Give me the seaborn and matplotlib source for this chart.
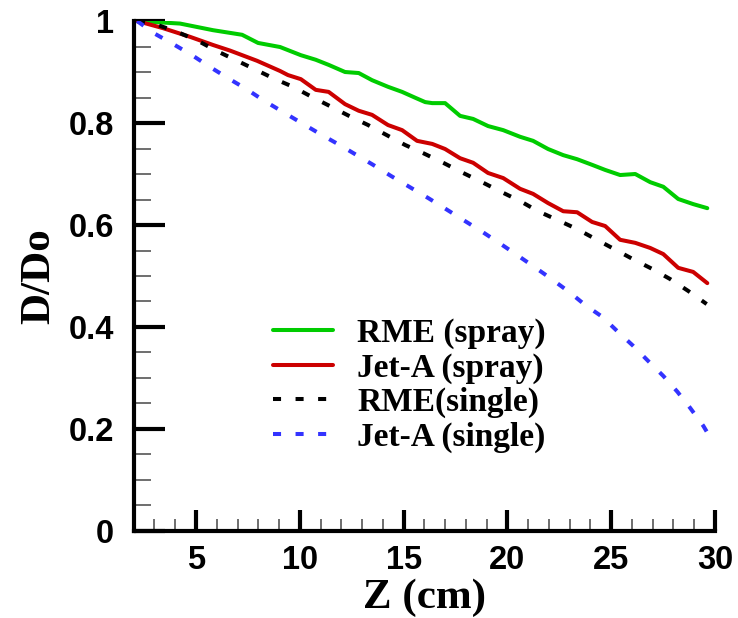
import numpy as np
import pandas as pd
import matplotlib
matplotlib.use("Agg")
import matplotlib.pyplot as plt
import seaborn as sns
from matplotlib.ticker import MultipleLocator, FixedLocator, FixedFormatter

# ---- data ----
z_rme_spray = [2.16, 4.23, 5.82, 7.22, 7.99, 9.05, 10.05, 10.77, 11.39, 12.18, 12.84, 13.48,
               14.25, 14.93, 15.59, 16.04, 16.38, 17.00, 17.72, 18.35, 19.07, 19.80, 20.61,
               21.24, 21.96, 22.69, 23.36, 24.08, 24.71, 25.43, 26.16, 26.88, 27.51, 28.23,
               28.95, 29.63]
d_rme_spray = [1.000, 0.995, 0.982, 0.973, 0.957, 0.949, 0.933, 0.924, 0.914, 0.900, 0.898, 0.884,
               0.871, 0.861, 0.849, 0.841, 0.839, 0.839, 0.814, 0.808, 0.794, 0.786, 0.773,
               0.765, 0.749, 0.737, 0.729, 0.718, 0.708, 0.698, 0.700, 0.684, 0.675, 0.651,
               0.641, 0.633]

z_jeta_spray = [2.16, 3.41, 4.71, 5.82, 6.64, 7.94, 9.05, 9.43, 10.05, 10.77, 11.39, 12.18, 12.84,
                13.48, 14.25, 14.93, 15.65, 16.38, 17.00, 17.72, 18.35, 19.07, 19.80, 20.61,
                21.24, 21.96, 22.69, 23.36, 24.08, 24.71, 25.43, 26.16, 26.88, 27.51, 28.23,
                28.95, 29.63]
d_jeta_spray = [1.000, 0.986, 0.969, 0.953, 0.942, 0.922, 0.902, 0.894, 0.886, 0.865, 0.861, 0.837,
                0.824, 0.816, 0.796, 0.786, 0.765, 0.759, 0.749, 0.731, 0.722, 0.702, 0.692, 0.671,
                0.661, 0.643, 0.627, 0.625, 0.606, 0.598, 0.571, 0.565, 0.555, 0.543, 0.516,
                0.508, 0.486]

z_rme_single = [2.16, 3.17, 4.13, 5.10, 6.01, 6.88, 7.80, 8.71, 9.67, 10.59, 11.46, 12.37, 13.29,
                14.20, 15.07, 15.94, 16.91, 17.87, 18.78, 19.70, 20.61, 21.48, 22.40, 23.36,
                24.22, 25.14, 26.05, 26.97, 27.84, 28.70, 29.60]
d_rme_single = [1.000, 0.992, 0.978, 0.961, 0.941, 0.924, 0.906, 0.888, 0.871, 0.851, 0.833, 0.814,
                0.796, 0.776, 0.757, 0.741, 0.722, 0.702, 0.684, 0.665, 0.647, 0.627, 0.610, 0.592,
                0.573, 0.553, 0.533, 0.514, 0.494, 0.471, 0.445]

z_jeta_single = [2.16, 3.02, 3.89, 4.81, 5.67, 6.54, 7.41, 8.23, 9.05, 10.0, 11.0, 12.0, 12.66,
                 13.53, 14.40, 15.27, 16.18, 17.05, 17.87, 18.74, 19.60, 20.47, 21.29, 22.06,
                 23.0, 23.75, 24.57, 25.34, 26.06, 26.79, 27.51, 28.19, 28.81, 29.44, 29.92]
d_jeta_single = [1.000, 0.975, 0.955, 0.933, 0.910, 0.888, 0.867, 0.845, 0.825, 0.802, 0.778, 0.755,
                 0.739, 0.718, 0.696, 0.675, 0.653, 0.631, 0.610, 0.588, 0.565, 0.541, 0.518, 0.496,
                 0.468, 0.443, 0.420, 0.390, 0.363, 0.333, 0.304, 0.273, 0.241, 0.206, 0.173]

labels = ["RME (spray)", "Jet-A (spray)", "RME(single)", "Jet-A (single)"]
colors = ["#00cc00", "#cc0000", "#000000", "#3333ff"]

x_ticks = [5, 10, 15, 20, 25, 30]
y_ticks = [0, 0.2, 0.4, 0.6, 0.8, 1.0]
y_ticklabels = ["0", "0.2", "0.4", "0.6", "0.8", "1"]

# ---- figure ----
sns.set_style("ticks")
plt.rcParams.update({"text.color": "black", "axes.labelcolor": "black",
                     "xtick.color": "black", "ytick.color": "black",
                     "axes.edgecolor": "black"})
fig = plt.figure(figsize=(7.38, 6.18), dpi=100)
ax = fig.add_axes([0.1812, 0.1408, 0.9688 - 0.1812, 0.966 - 0.1408])

series = [(z_rme_spray, d_rme_spray), (z_jeta_spray, d_jeta_spray),
          (z_rme_single, d_rme_single), (z_jeta_single, d_jeta_single)]
styles = ["-", "-", (0, (2.0, 3.6)), (0, (2.0, 3.6))]
for (zz, dd), lab, col, ls in zip(series, labels, colors, styles):
    df = pd.DataFrame({"Z": zz, "D": dd})
    sns.lineplot(data=df, x="Z", y="D", ax=ax, color=col, lw=2.9, linestyle=ls,
                 label=lab, estimator=None, sort=False)

ax.set_xlim(2, 30)
ax.set_ylim(0, 1)

for s in ["top", "right"]:
    ax.spines[s].set_visible(False)
for s in ["left", "bottom"]:
    ax.spines[s].set_linewidth(3.0)
    ax.spines[s].set_color("black")

ax.xaxis.set_major_locator(FixedLocator(x_ticks))
ax.xaxis.set_minor_locator(MultipleLocator(1))
ax.yaxis.set_major_locator(FixedLocator(y_ticks))
ax.yaxis.set_major_formatter(FixedFormatter(y_ticklabels))
ax.yaxis.set_minor_locator(MultipleLocator(0.05))

ax.tick_params(which="major", direction="in", length=15, width=3.0, color="black",
               labelcolor="black")
ax.tick_params(axis="x", which="major", pad=10)
ax.tick_params(axis="y", which="major", length=22, pad=14)
ax.tick_params(which="minor", direction="in", length=9, width=1.2, color="#555555")
ax.tick_params(axis="y", which="minor", length=12)

for lab in ax.get_xticklabels() + ax.get_yticklabels():
    lab.set_fontfamily("Liberation Sans")
    lab.set_fontweight("bold")
    lab.set_fontsize(23.5)

ax.set_xlabel("Z (cm)", family="Liberation Serif", weight="bold", fontsize=31, labelpad=2,
              color="black")
ax.set_ylabel("D/Do", family="Liberation Serif", weight="bold", fontsize=31, labelpad=8,
              color="black")

leg = ax.legend(loc="upper left", bbox_to_anchor=(273 / 738, 1 - 318 / 618),
                bbox_transform=fig.transFigure, frameon=False,
                prop=dict(family="Liberation Serif", weight="bold", size=24),
                handlelength=1.8, handletextpad=0.72, labelspacing=0.1,
                borderpad=0, borderaxespad=0)
for t in leg.get_texts():
    t.set_color("black")

fig.savefig("out.png", dpi=100)
